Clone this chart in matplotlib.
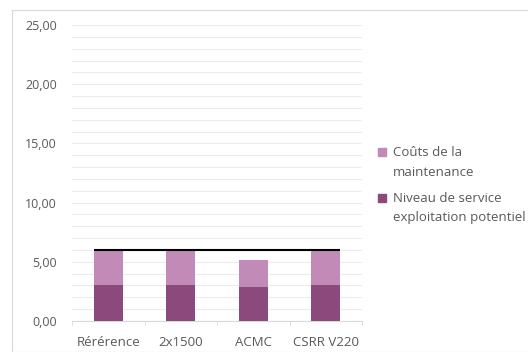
import matplotlib.pyplot as plt
from matplotlib.patches import Rectangle

categories = ['Rérérence', '2x1500', 'ACMC', 'CSRR V220']
niveau_service = [3.0, 3.0, 2.9, 3.0]
couts_maintenance = [3.0, 3.0, 2.25, 3.0]
limite = 6.0
legend_labels = [['Coûts de la', 'maintenance'],
                 ['Niveau de service', 'exploitation potentiel']]

dark = '#8c4a7c'
light = '#c28ab6'
grey_txt = '#595959'

plt.rcParams['font.family'] = ['Open Sans', 'DejaVu Sans']

W, H = 528, 352
fig = plt.figure(figsize=(W / 100, H / 100), dpi=100)
# chart area border
fig.patches.append(Rectangle((12/W, 0), 1.0, 1 - 10/H, transform=fig.transFigure,
                             fill=False, edgecolor='#d9d9d9', lw=0.8))

ax = fig.add_axes([72/W, 1 - 321/H, 290/W, 296/H])

x = range(len(categories))
ax.bar(x, niveau_service, width=0.4, color=dark, zorder=3)
ax.bar(x, couts_maintenance, width=0.4, bottom=niveau_service, color=light, zorder=3)
ax.hlines(limite, -0.2, len(categories) - 0.8, color='black', lw=1.5, zorder=4)

ax.set_xlim(-0.5, len(categories) - 0.5)
ax.set_ylim(0, 25)
ax.set_yticks(range(0, 26, 5))
ax.set_yticklabels(['%d,00' % v for v in range(0, 26, 5)])
ax.set_yticks(range(0, 26), minor=True)
ax.yaxis.grid(True, which='both', color='#ececec', lw=0.8, zorder=0)
ax.tick_params(axis='y', which='both', length=0, labelsize=9, colors=grey_txt, pad=11)

ax.set_xticks(list(x))
ax.set_xticklabels(categories)
ax.set_xticks([i + 0.5 for i in range(-1, len(categories))], minor=True)
ax.tick_params(axis='x', which='major', length=0, labelsize=9.5, colors=grey_txt, pad=10.5)
ax.tick_params(axis='x', which='minor', length=3, color='#d9d9d9')

for s in ['top', 'right', 'left']:
    ax.spines[s].set_visible(False)
ax.spines['bottom'].set_color('#d9d9d9')

# legend drawn by hand to match the spacing of the original
entry_y = [152, 198]
for (l1, l2), col, y0 in zip(legend_labels, [light, dark], entry_y):
    fig.patches.append(Rectangle((378/W, 1 - (y0 + 4)/H), 8/W, 8/H,
                                 transform=fig.transFigure, color=col))
    fig.text(393/W, 1 - y0/H, l1, fontsize=9.5, color=grey_txt, va='center')
    fig.text(393/W, 1 - (y0 + 20)/H, l2, fontsize=9.5, color=grey_txt, va='center')

fig.savefig('out.png', dpi=100)
